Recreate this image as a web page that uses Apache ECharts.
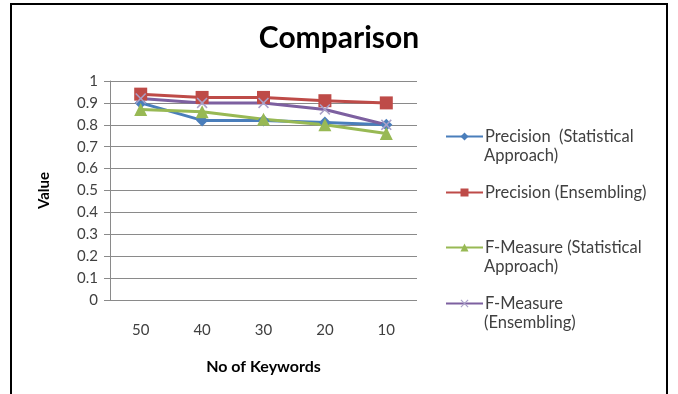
<!DOCTYPE html>
<html>
<head>
<meta charset="utf-8">
<script src="https://cdn.jsdelivr.net/npm/echarts@6/dist/echarts.min.js"></script>
<style>
  html, body { margin: 0; padding: 0; background: #fff; }
  #chart { width: 678px; height: 394px; }
</style>
</head>
<body>
<div id="chart"></div>
<script>
var keywords = ['50', '40', '30', '20', '10'];
var precisionStat = [0.90, 0.82, 0.82, 0.81, 0.80];
var precisionEns = [0.94, 0.925, 0.925, 0.91, 0.90];
var fmeasureStat = [0.87, 0.86, 0.825, 0.80, 0.76];
var fmeasureEns = [0.92, 0.90, 0.90, 0.87, 0.80];

var seriesNames = [
  'Precision  (Statistical',
  'Precision (Ensembling)',
  'F-Measure (Statistical',
  'F-Measure'
];
// second lines of the wrapped legend entries
var legendSecondLines = ['Approach)', '', 'Approach)', '(Ensembling)'];
var legendTops = [134, 190, 245, 301];
var colors = ['#4a7ebb', '#be4b48', '#98b954', '#7d60a0'];
var crossPath = 'path://M0,1L1,0L5,4L9,0L10,1L6,5L10,9L9,10L5,6L1,10L0,9L4,5Z';

var font = 'Lato, "Open Sans", sans-serif';
var legendFontSize = 16.5;
var myChart = echarts.init(document.getElementById('chart'));

var legends = [];
var extraText = [];
for (let i = 0; i < seriesNames.length; i++) {
  legends.push({
    data: [seriesNames[i]],
    left: 440,
    top: legendTops[i] - 11,
    itemWidth: 37,
    itemHeight: 10,
    selectedMode: false,
    textStyle: { fontFamily: font, fontSize: legendFontSize, color: '#404040', padding: [0, 0, 0, -3] }
  });
  if (legendSecondLines[i]) {
    extraText.push({
      type: 'text',
      left: 484,
      top: legendTops[i] + 13,
      style: { text: legendSecondLines[i], font: legendFontSize + 'px ' + font, fill: '#404040' }
    });
  }
}

var option = {
  color: colors,
  backgroundColor: '#fff',
  animation: false,
  title: {
    text: 'Comparison',
    left: 'center',
    top: 18,
    textStyle: { fontFamily: font, fontSize: 30, fontWeight: 'bold', color: '#000' }
  },
  graphic: [{
    type: 'rect',
    shape: { x: 11, y: 4, width: 656, height: 400 },
    style: { fill: null, stroke: '#000', lineWidth: 2 }
  }].concat(extraText),
  legend: legends,
  grid: { left: 110, right: 261, top: 81, bottom: 94 },
  xAxis: {
    type: 'category',
    data: keywords,
    boundaryGap: true,
    name: 'No of Keywords',
    nameLocation: 'middle',
    nameGap: 59,
    nameTextStyle: { fontFamily: font, fontSize: 16, fontWeight: 'bold', color: '#000' },
    axisLine: { show: false },
    axisTick: { show: false },
    axisLabel: { fontFamily: font, fontSize: 15, color: '#404040', margin: 23 }
  },
  yAxis: {
    type: 'value',
    min: 0,
    max: 1,
    interval: 0.1,
    name: 'Value',
    nameLocation: 'middle',
    nameGap: 58,
    nameTextStyle: { fontFamily: font, fontSize: 15, fontWeight: 'bold', color: '#000' },
    axisLine: { show: true, lineStyle: { color: '#8a8a8a', width: 1 } },
    axisTick: { show: true, length: 6, lineStyle: { color: '#8a8a8a' } },
    axisLabel: { fontFamily: font, fontSize: 15, color: '#404040', margin: 12 },
    splitLine: { lineStyle: { color: '#8a8a8a', width: 1 } }
  },
  series: [
    {
      name: seriesNames[0], type: 'line', data: precisionStat,
      symbol: 'diamond', symbolSize: 12,
      lineStyle: { width: 3 }
    },
    {
      name: seriesNames[1], type: 'line', data: precisionEns,
      symbol: 'rect', symbolSize: 13,
      lineStyle: { width: 3 }
    },
    {
      name: seriesNames[2], type: 'line', data: fmeasureStat,
      symbol: 'triangle', symbolSize: 13,
      lineStyle: { width: 3 }
    },
    {
      name: seriesNames[3], type: 'line', data: fmeasureEns,
      symbol: crossPath, symbolSize: 11,
      itemStyle: { color: '#a9a0c8' },
      lineStyle: { width: 3, color: '#7d60a0' }
    }
  ]
};
myChart.setOption(option);
</script>
</body>
</html>
